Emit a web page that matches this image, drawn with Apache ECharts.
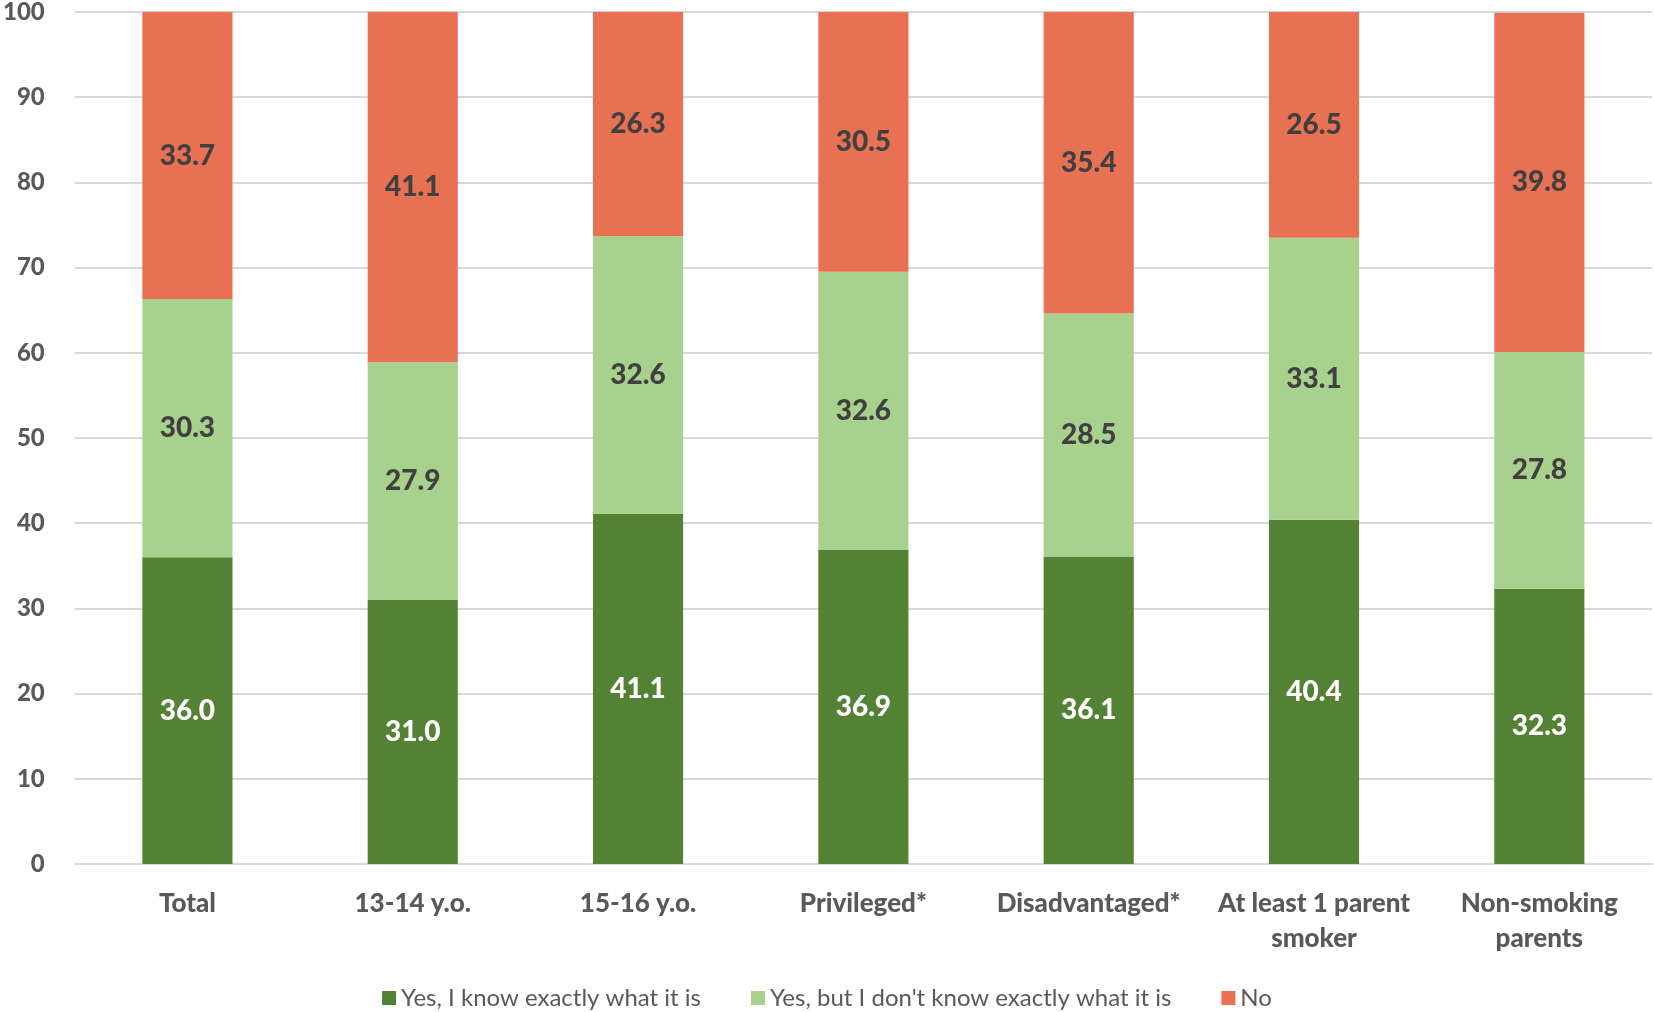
<!DOCTYPE html>
<html>
<head>
<meta charset="utf-8">
<script src="https://cdn.jsdelivr.net/npm/echarts@6/dist/echarts.min.js"></script>
<style>
  html, body { margin: 0; padding: 0; background: #fff; }
  #main { width: 1654px; height: 1012px; }
</style>
</head>
<body>
<div id="main"></div>
<script>
var categories = ['Total', '13-14 y.o.', '15-16 y.o.', 'Privileged*', 'Disadvantaged*', 'At least 1 parent\nsmoker', 'Non-smoking\nparents'];
var seriesNames = ['Yes, I know exactly what it is', "Yes, but I don't know exactly what it is", 'No'];
var yesExact = [36.0, 31.0, 41.1, 36.9, 36.1, 40.4, 32.3];
var yesNotExact = [30.3, 27.9, 32.6, 32.6, 28.5, 33.1, 27.8];
var no = [33.7, 41.1, 26.3, 30.5, 35.4, 26.5, 39.8];
var colors = ['#548235', '#A9D18E', '#E97153'];
var labelColors = ['#ffffff', '#404040', '#404040'];

var chart = echarts.init(document.getElementById('main'));
var font = 'Lato, "Open Sans", sans-serif';

function makeSeries(i, data) {
  return {
    name: seriesNames[i],
    type: 'bar',
    stack: 'all',
    barCategoryGap: '60%',
    data: data,
    itemStyle: { color: colors[i] },
    label: {
      show: true,
      position: 'inside',
      color: labelColors[i],
      fontFamily: font,
      fontWeight: 900,
      fontSize: 28,
      formatter: function (p) { return p.value.toFixed(1); }
    }
  };
}

var option = {
  animation: false,
  textStyle: { fontFamily: font },
  grid: { left: 73, right: 2, top: 11, bottom: 148, containLabel: false },
  legend: {
    bottom: -3,
    left: 'center',
    icon: 'rect',
    itemWidth: 14,
    itemHeight: 14,
    itemGap: 50,
    textStyle: { fontFamily: font, fontSize: 24, color: '#595959' },
    data: seriesNames
  },
  xAxis: {
    type: 'category',
    data: categories,
    axisLine: { lineStyle: { color: '#D9D9D9', width: 2 } },
    axisTick: { show: false },
    axisLabel: {
      interval: 0,
      margin: 22,
      fontFamily: font,
      fontWeight: 900,
      fontSize: 26,
      color: '#595959',
      lineHeight: 35
    }
  },
  yAxis: {
    type: 'value',
    min: 0,
    max: 100,
    interval: 10,
    axisLine: { show: false },
    axisTick: { show: false },
    splitLine: { lineStyle: { color: '#D9D9D9', width: 2 } },
    axisLabel: {
      margin: 30,
      fontFamily: font,
      fontWeight: 900,
      fontSize: 24,
      color: '#595959'
    }
  },
  series: [
    makeSeries(0, yesExact),
    makeSeries(1, yesNotExact),
    makeSeries(2, no)
  ]
};
chart.setOption(option);
</script>
</body>
</html>
